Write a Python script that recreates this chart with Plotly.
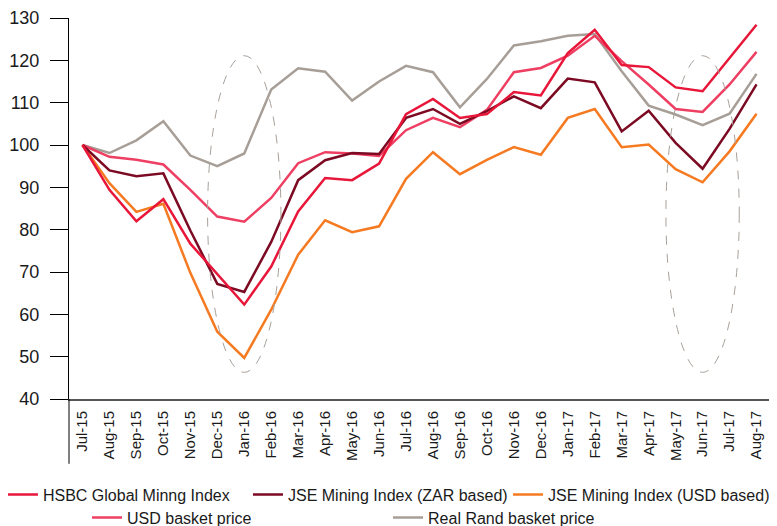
import plotly.graph_objects as go

months = ["Jul-15", "Aug-15", "Sep-15", "Oct-15", "Nov-15", "Dec-15", "Jan-16", "Feb-16",
          "Mar-16", "Apr-16", "May-16", "Jun-16", "Jul-16", "Aug-16", "Sep-16", "Oct-16",
          "Nov-16", "Dec-16", "Jan-17", "Feb-17", "Mar-17", "Apr-17", "May-17", "Jun-17",
          "Jul-17", "Aug-17"]

hsbc_global = [100, 89.4, 82.0, 87.2, 76.7, 69.4, 62.3, 71.3, 84.3, 92.2, 91.7, 95.6,
               107.3, 110.9, 106.4, 107.3, 112.5, 111.7, 121.7, 127.2, 118.9, 118.4,
               113.6, 112.7, 120.6, 128.4]
jse_zar = [100, 94.0, 92.6, 93.3, 79.8, 67.2, 65.3, 77.1, 91.7, 96.4, 98.1, 97.9,
           106.4, 108.5, 105.0, 108.0, 111.5, 108.7, 115.7, 114.8, 103.2, 108.1,
           100.5, 94.4, 103.8, 114.3]
jse_usd = [100, 91.0, 84.2, 86.1, 69.8, 55.9, 49.7, 61.1, 74.1, 82.2, 79.4, 80.8,
           92.0, 98.3, 93.1, 96.5, 99.5, 97.7, 106.4, 108.5, 99.5, 100.1,
           94.3, 91.2, 98.5, 107.4]
usd_basket = [100, 97.2, 96.5, 95.4, 89.4, 83.1, 81.9, 87.5, 95.7, 98.3, 98.0, 97.4,
              103.5, 106.4, 104.2, 108.3, 117.2, 118.2, 121.1, 125.8, 119.8, 114.3,
              108.5, 107.8, 114.3, 122.0]
real_rand = [100, 98.1, 101.1, 105.6, 97.5, 95.0, 98.0, 113.1, 118.1, 117.3, 110.5, 115.0,
             118.7, 117.2, 108.9, 115.6, 123.5, 124.5, 125.8, 126.2, 117.4, 109.3,
             107.2, 104.7, 107.4, 116.8]

highlight_months = ["Jan-16", "Jun-17"]
highlight_low, highlight_high = 46.3, 121.1

FONT = "Liberation Sans, Arial, Helvetica, sans-serif"

fig = go.Figure()

# name, values, colour, legend id (drawing order: first = bottom)
series = [
    ("Real Rand basket price", real_rand, "#A79F97", "legend5"),
    ("JSE Mining Index (USD based)", jse_usd, "#F57A22", "legend3"),
    ("USD basket price", usd_basket, "#EE3F63", "legend4"),
    ("JSE Mining Index (ZAR based)", jse_zar, "#7B0A22", "legend2"),
    ("HSBC Global Minng Index", hsbc_global, "#E8173A", "legend"),
]
for name, vals, color, leg in series:
    fig.add_trace(go.Scatter(
        x=months, y=vals, name=name, mode="lines",
        line=dict(color=color, width=2.5),
        legend=leg,
    ))

for m in highlight_months:
    i = months.index(m)
    fig.add_shape(type="circle", xref="x", yref="y",
                  x0=i - 1.36, x1=i + 1.36, y0=highlight_low, y1=highlight_high,
                  line=dict(color="#A8A098", width=1, dash="dash"), layer="above")

# boundary lines in the category label area
fig.add_shape(type="line", xref="paper", yref="paper", x0=0, x1=0, y0=0, y1=-0.17,
              line=dict(color="#000000", width=1))
fig.add_shape(type="line", xref="paper", yref="paper", x0=1, x1=1, y0=0, y1=-0.186,
              line=dict(color="#333333", width=1))


def leg(x, y, size=16):
    return dict(orientation="h", x=x, xanchor="left", y=y, yanchor="middle",
                font=dict(size=size, family=FONT, color="#1a1a1a"),
                bgcolor="rgba(0,0,0,0)", itemwidth=30)


fig.update_layout(
    width=777, height=526,
    margin=dict(l=61, r=15, t=10, b=135, autoexpand=False),
    paper_bgcolor="white", plot_bgcolor="white",
    font=dict(family=FONT, color="#1a1a1a"),
    showlegend=True,
    legend=leg(-0.0942, -0.2512),
    legend2=leg(0.2553, -0.2512),
    legend3=leg(0.6263, -0.2512),
    legend4=leg(0.0257, -0.3115),
    legend5=leg(0.4551, -0.3115),
    xaxis=dict(type="category", range=[-0.5, 25.5], showgrid=False, zeroline=False,
               showline=True, linecolor="#555555", linewidth=2, ticks="",
               tickangle=-90, tickfont=dict(size=15, family=FONT, color="#1a1a1a"),
               ticklabelstandoff=4),
    yaxis=dict(range=[40, 130], dtick=10, showgrid=False, zeroline=False,
               showline=True, linecolor="#000000", linewidth=1,
               ticks="outside", ticklen=18, tickcolor="#000000", tickwidth=1,
               tickfont=dict(size=18, family=FONT, color="#1a1a1a"),
               ticklabelstandoff=7),
)

fig.write_html("out.html")
